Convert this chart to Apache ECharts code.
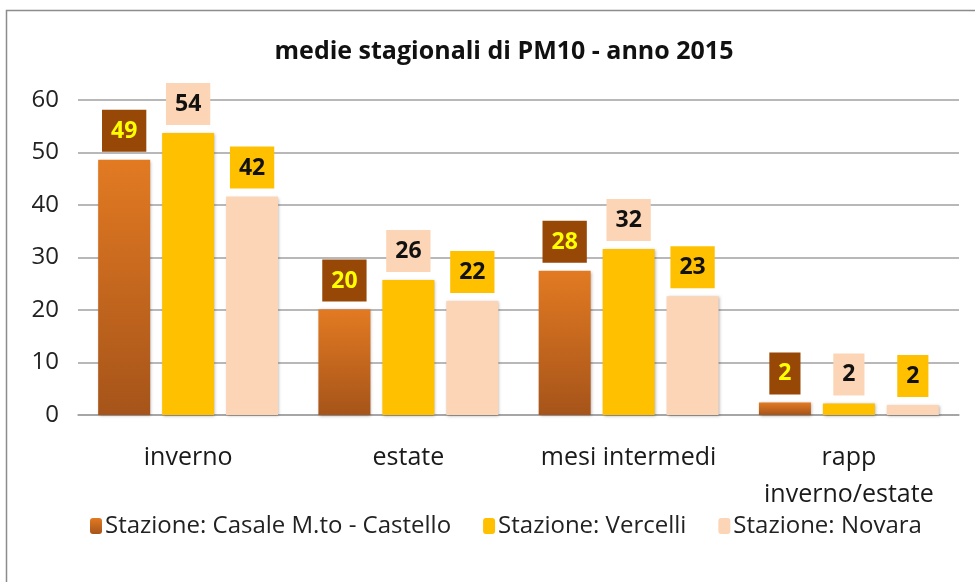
<!DOCTYPE html>
<html lang="it">
<head>
    <meta charset="utf-8">
    <title>medie stagionali di PM10</title>
    <script src="https://cdn.jsdelivr.net/npm/echarts@6/dist/echarts.min.js"></script>
    <style type="text/css">
        html, body {
            margin: 0;
            padding: 0;
            background: #ffffff;
        }

        #main {
            width: 975px;
            height: 582px;
        }
    </style>
</head>
<body>
<div id="main"></div>
<script type="text/javascript">
    // dati
    const categories = ['inverno', 'estate', 'mesi intermedi', 'rapp\ninverno/estate'];
    const seriesNames = ['Stazione: Casale M.to - Castello', 'Stazione: Vercelli', 'Stazione: Novara'];
    const casale = [48.6, 20.1, 27.5, 2.4];
    const vercelli = [53.7, 25.7, 31.6, 2.2];
    const novara = [41.6, 21.7, 22.6, 1.9];
    const yTicks = [0, 10, 20, 30, 40, 50, 60];

    const font = '"Open Sans", sans-serif';

    function makeLabel(bg, color) {
        return {
            show: true,
            position: 'top',
            distance: 8,
            formatter: function (p) {
                return Math.round(p.value);
            },
            fontFamily: font,
            fontSize: 23,
            fontWeight: 'bold',
            color: color,
            backgroundColor: bg,
            padding: [10, 9, 9, 9]
        };
    }

    let shadow = {
        shadowBlur: 3,
        shadowColor: 'rgba(0,0,0,0.3)',
        shadowOffsetX: 1,
        shadowOffsetY: 1
    };

    let myChart = echarts.init(document.getElementById('main'));
    myChart.setOption({
        animation: false,
        backgroundColor: '#ffffff',
        title: {
            text: 'medie stagionali di PM10 - anno 2015',
            left: 499,
            textAlign: 'center',
            top: 34,
            textStyle: {
                fontFamily: font,
                fontSize: 25,
                fontWeight: 'bold',
                color: '#111'
            }
        },
        graphic: [{
            type: 'rect',
            shape: {x: 6.5, y: 10.5, width: 1000, height: 600},
            style: {fill: null, stroke: '#8c8c8c', lineWidth: 1.5},
            silent: true
        }],
        legend: {
            left: 85,
            top: 509,
            itemWidth: 12,
            itemHeight: 16,
            itemGap: 32,
            textStyle: {
                fontFamily: font,
                fontSize: 24,
                color: '#222',
                padding: [0, 0, 0, -2]
            },
            data: seriesNames
        },
        grid: {
            left: 78,
            right: 16,
            top: 100,
            bottom: 167
        },
        xAxis: {
            type: 'category',
            data: categories,
            axisLine: {lineStyle: {color: '#a0a0a0', width: 1.5}},
            axisTick: {show: false},
            axisLabel: {
                interval: 0,
                margin: 24,
                fontFamily: font,
                fontSize: 25,
                color: '#1a1a1a',
                lineHeight: 37
            }
        },
        yAxis: {
            type: 'value',
            min: yTicks[0],
            max: yTicks[yTicks.length - 1],
            interval: 10,
            axisLine: {show: false},
            axisTick: {show: false},
            splitLine: {lineStyle: {color: '#a0a0a0', width: 1.5}},
            axisLabel: {
                margin: 19,
                fontFamily: font,
                fontSize: 24,
                color: '#222'
            }
        },
        series: [{
            name: seriesNames[0],
            type: 'bar',
            data: casale,
            barWidth: 52,
            barGap: '23%',
            itemStyle: Object.assign({
                color: new echarts.graphic.LinearGradient(0, 0, 0, 1, [
                    {offset: 0, color: '#e27a22'},
                    {offset: 1, color: '#a6541a'}
                ])
            }, shadow),
            label: makeLabel('#974706', '#ffff00')
        }, {
            name: seriesNames[1],
            type: 'bar',
            data: vercelli,
            barWidth: 52,
            barGap: '23%',
            itemStyle: Object.assign({color: '#ffc000'}, shadow),
            label: makeLabel('#fbd5b5', '#111')
        }, {
            name: seriesNames[2],
            type: 'bar',
            data: novara,
            barWidth: 52,
            barGap: '23%',
            itemStyle: Object.assign({color: '#fbd5b5'}, shadow),
            label: makeLabel('#ffc000', '#111')
        }]
    });
</script>
</body>
</html>
